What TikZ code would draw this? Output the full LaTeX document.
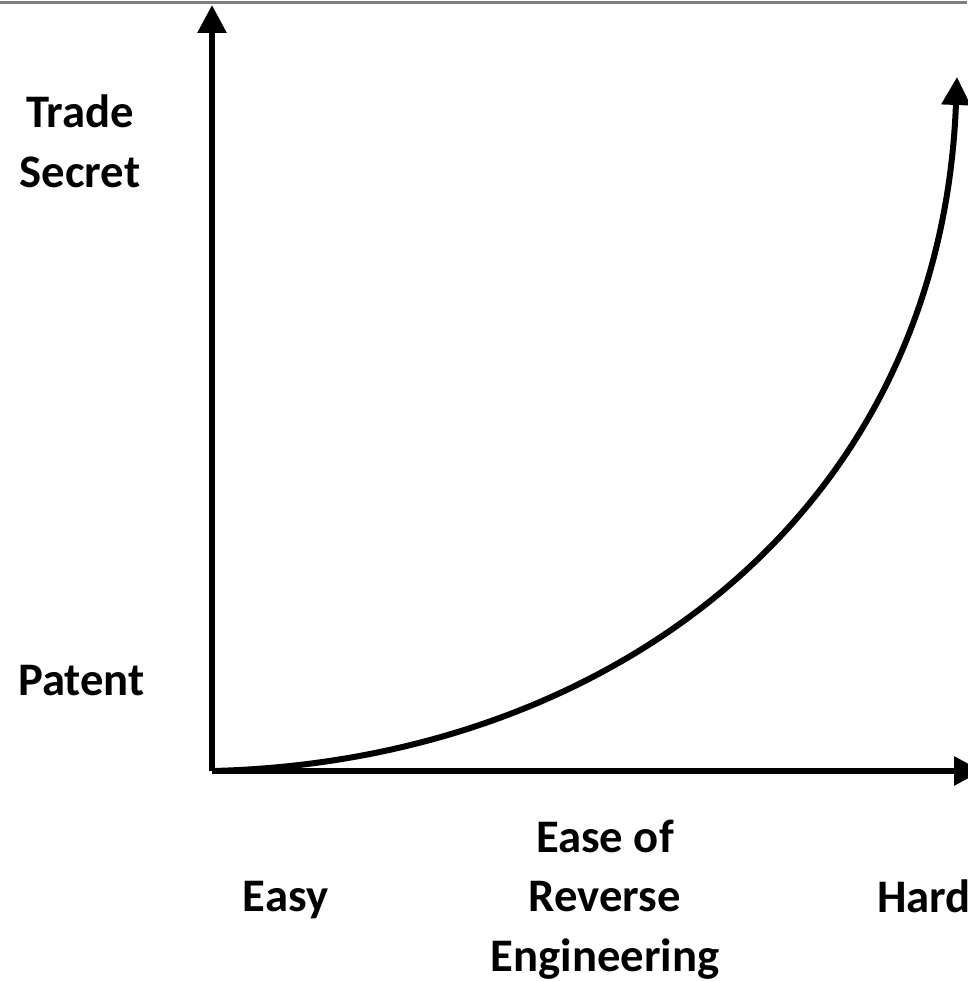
\documentclass[tikz,border=0pt]{standalone}
\usepackage{fontspec}
\setmainfont{Carlito}
\usetikzlibrary{arrows.meta}
\tikzset{
  axis/.style={line width=4.5pt, -{Triangle[length=21pt,width=21pt]}},
  lbl/.style={font=\bfseries\fontsize{35}{44.5}\selectfont, align=center, inner sep=0pt, anchor=base}
}
\begin{document}
\begin{tikzpicture}[x=0.75pt,y=-0.75pt]
    \useasboundingbox (0,0) rectangle (967,981);
    \draw[gray, line width=2pt] (0,2.8) -- (967,2.8);
    \coordinate (o) at (212,771);
    \coordinate (ytop) at (212,5);
    \coordinate (xend) at (982,771);
    \coordinate (cend) at (957,77);
    %axes
    \draw[axis] (o) -- (ytop);
    \draw[axis] (o) -- (xend);
    %curve
    \draw[axis] (o) .. controls (600,762) and (940,520) .. (cend);
    %labels
    \node[lbl] (trade) at (80,187) {Trade\\Secret};
    \node[lbl] (patent) at (81.5,695) {Patent};
    \node[lbl] (easy) at (285.5,911) {Easy};
    \node[lbl] (ease) at (605,971) {Ease of\\Reverse\\Engineering};
    \node[lbl, anchor=base west] (hard) at (877,912) {Hard};
\end{tikzpicture}
\end{document}
